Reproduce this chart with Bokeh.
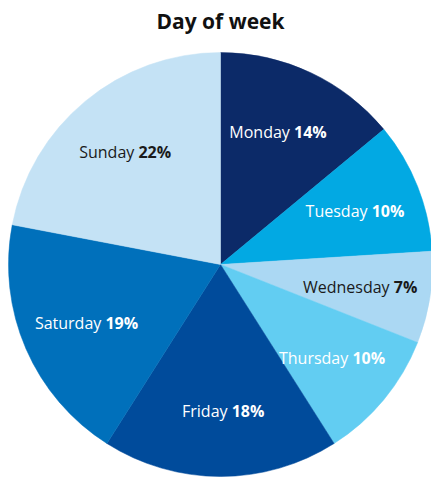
import math
from bokeh.plotting import figure
from bokeh.models import ColumnDataSource, Label
from bokeh.core.properties import value
from bokeh.embed import file_html
from bokeh.resources import INLINE

days = ["Monday", "Tuesday", "Wednesday", "Thursday", "Friday", "Saturday", "Sunday"]
shares = [14, 10, 7, 10, 18, 19, 22]
colors = ["#0c2a68", "#02a9e3", "#abd8f3", "#62cdf2", "#004b9b", "#0070bb", "#c4e2f5"]
text_colors = ["#ffffff", "#ffffff", "#1a1a1a", "#ffffff", "#ffffff", "#ffffff", "#1a1a1a"]
title_text = "Day of week"

W, H = 431, 477
p = figure(width=W, height=H, x_range=(0, W), y_range=(0, H),
           output_backend="svg", toolbar_location=None, min_border=0)
p.axis.visible = False
p.grid.visible = False
p.outline_line_color = None
p.background_fill_color = "white"

cx, cy, R = 220, H - 264, 212
total = sum(shares)
starts, ends, lx, ly = [], [], [], []
cum = 0
for s in shares:
    a0 = math.pi / 2 - 2 * math.pi * cum / total
    a1 = math.pi / 2 - 2 * math.pi * (cum + s) / total
    starts.append(a0)
    ends.append(a1)
    mid = (a0 + a1) / 2
    lx.append(cx + 0.69 * R * math.cos(mid))
    ly.append(cy + 0.69 * R * math.sin(mid))
    cum += s

src = ColumnDataSource(dict(start=starts, end=ends, color=colors))
p.wedge(x=cx, y=cy, radius=R, start_angle="start", end_angle="end",
        direction="clock", fill_color="color", line_color="color", line_width=0.5, source=src)

fs = 16
names = [d + " " for d in days]
pcts = [f"{s}%" for s in shares]
ax = []
for n, pc, x in zip(names, pcts, lx):
    nw = 0.5 * fs * len(n)
    pw = 0.7 * fs * len(pc)
    ax.append(x - (nw + pw) / 2 + nw)
lsrc = ColumnDataSource(dict(x=ax, y=ly, name=names, pct=pcts, tc=text_colors))
p.text(x="x", y="y", text="name", text_color="tc", text_align="right", text_baseline="middle",
       text_font=value("Open Sans"), text_font_size=f"{fs}px", source=lsrc)
p.text(x="x", y="y", text="pct", text_color="tc", text_align="left", text_baseline="middle",
       text_font=value("Open Sans"), text_font_size=f"{fs}px", text_font_style="bold", source=lsrc)

p.add_layout(Label(x=220, y=H - 20, text=title_text, text_align="center", text_baseline="middle",
                   text_font="Open Sans", text_font_size="21px", text_font_style="bold",
                   text_color="#111111"))

open("out.html", "w").write(file_html(p, INLINE))
